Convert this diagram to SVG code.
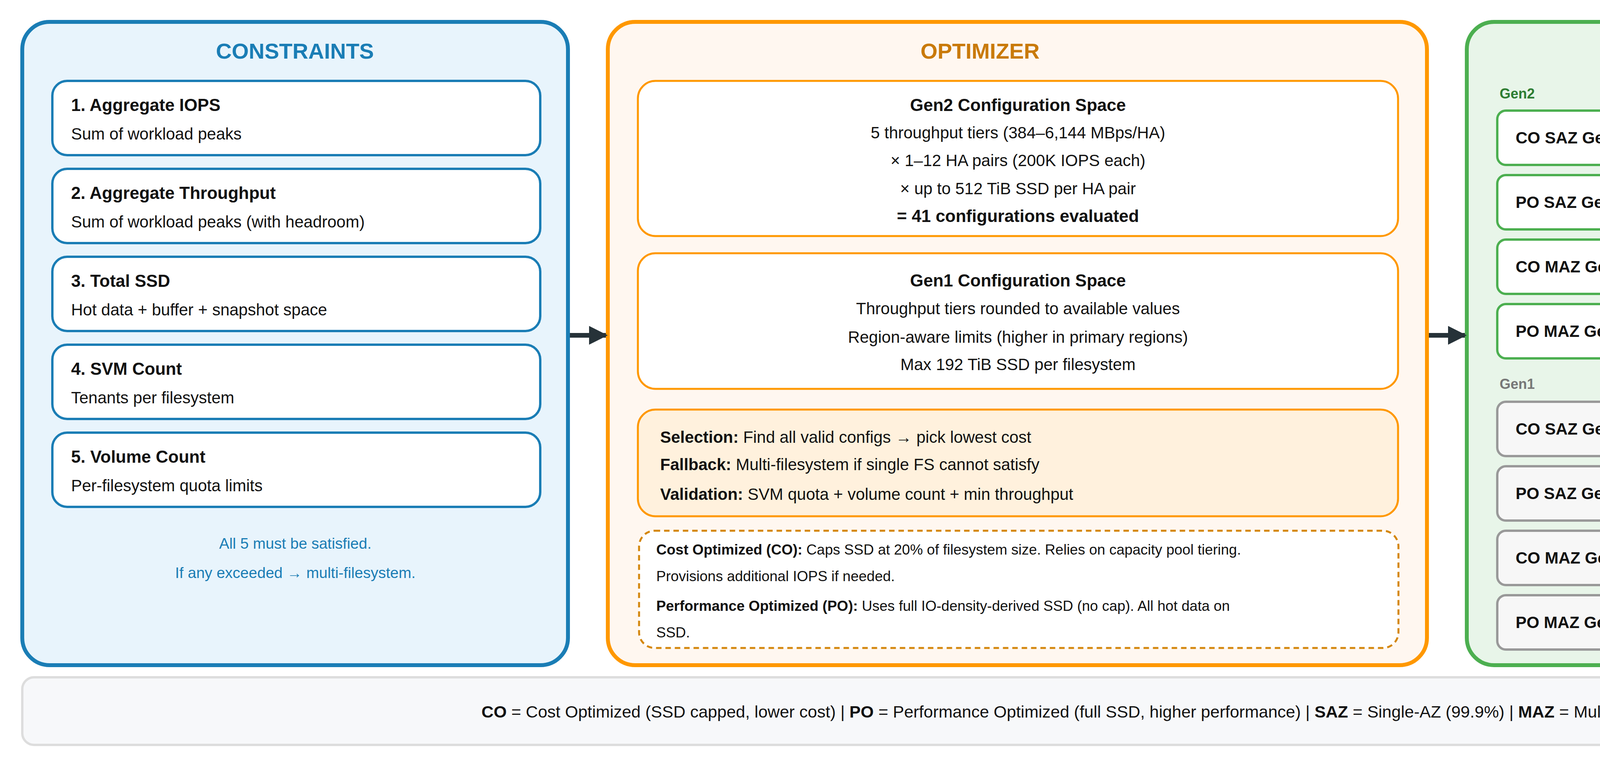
<svg xmlns="http://www.w3.org/2000/svg" width="6910" height="1960" viewBox="0 0 6910 1960">
<defs>
<style>
text{font-family:"Liberation Sans",Arial,sans-serif;fill:#111}
.ttl{font-size:56px;font-weight:bold;text-anchor:middle}
.b{font-weight:bold}
.ct{font-size:44px;font-weight:bold}
.cd{font-size:42px}
.cbox{fill:#fff;stroke:#1a7db5;stroke-width:6}
.obox{fill:#fff;stroke:#ff9800;stroke-width:5}
.g2{fill:#fff;stroke:#4caf50;stroke-width:6}
.g1{fill:#f7f7f7;stroke:#999;stroke-width:6}
.ot{font-size:42px}
.mid{text-anchor:middle}
</style>
<marker id="ah" viewBox="0 0 10 10" refX="9" refY="5" markerWidth="4" markerHeight="4" orient="auto" markerUnits="strokeWidth"><path d="M0,0 L10,5 L0,10 Z" fill="#263238"/></marker>
</defs>
<rect width="6910" height="1960" fill="#fff"/>

<g id="constraints">
<rect x="57" y="56" width="1397" height="1646" rx="70" fill="#e8f4fc" stroke="#1a7db5" stroke-width="10"/>
<text class="ttl" x="755" y="150" style="fill:#1a7db5">CONSTRAINTS</text>
<g id="c1"><rect class="cbox" x="134" y="207" width="1249" height="190" rx="38"/><text class="ct" x="182" y="284">1. Aggregate IOPS</text><text class="cd" x="182" y="357">Sum of workload peaks</text></g>
<g id="c2"><rect class="cbox" x="134" y="432" width="1249" height="190" rx="38"/><text class="ct" x="182" y="509">2. Aggregate Throughput</text><text class="cd" x="182" y="582">Sum of workload peaks (with headroom)</text></g>
<g id="c3"><rect class="cbox" x="134" y="657" width="1249" height="190" rx="38"/><text class="ct" x="182" y="734">3. Total SSD</text><text class="cd" x="182" y="807">Hot data + buffer + snapshot space</text></g>
<g id="c4"><rect class="cbox" x="134" y="882" width="1249" height="190" rx="38"/><text class="ct" x="182" y="959">4. SVM Count</text><text class="cd" x="182" y="1032">Tenants per filesystem</text></g>
<g id="c5"><rect class="cbox" x="134" y="1107" width="1249" height="190" rx="38"/><text class="ct" x="182" y="1184">5. Volume Count</text><text class="cd" x="182" y="1257">Per-filesystem quota limits</text></g>
<text class="mid" x="756" y="1404" style="font-size:39px;fill:#1a7db5">All 5 must be satisfied.</text>
<text class="mid" x="756" y="1479" style="font-size:39px;fill:#1a7db5">If any exceeded → multi-filesystem.</text>
</g>

<g id="optimizer">
<rect x="1556" y="56" width="2097" height="1646" rx="70" fill="#fff7f0" stroke="#ff9800" stroke-width="10"/>
<text class="ttl" x="2509" y="150" style="fill:#c97a0a">OPTIMIZER</text>
<g id="gen2space"><rect class="obox" x="1633" y="207" width="1946" height="397" rx="45"/>
<text class="mid b" x="2606" y="284" style="font-size:44px">Gen2 Configuration Space</text>
<text class="mid" x="2606" y="354" style="font-size:42px">5 throughput tiers (384–6,144 MBps/HA)</text>
<text class="mid" x="2606" y="425" style="font-size:42px">× 1–12 HA pairs (200K IOPS each)</text>
<text class="mid" x="2606" y="497" style="font-size:42px">× up to 512 TiB SSD per HA pair</text>
<text class="mid b" x="2606" y="568" style="font-size:44px">= 41 configurations evaluated</text></g>
<g id="gen1space"><rect class="obox" x="1633" y="648" width="1946" height="347" rx="45"/>
<text class="mid b" x="2606" y="733" style="font-size:44px">Gen1 Configuration Space</text>
<text class="mid" x="2606" y="804" style="font-size:42px">Throughput tiers rounded to available values</text>
<text class="mid" x="2606" y="877" style="font-size:42px">Region-aware limits (higher in primary regions)</text>
<text class="mid" x="2606" y="947" style="font-size:42px">Max 192 TiB SSD per filesystem</text></g>
<g id="selection"><rect x="1633" y="1048" width="1946" height="273" rx="45" fill="#fff1dd" stroke="#ff9800" stroke-width="5"/>
<text x="1690" y="1133" style="font-size:42px"><tspan class="b">Selection:</tspan> Find all valid configs → pick lowest cost</text>
<text x="1690" y="1203" style="font-size:42px"><tspan class="b">Fallback:</tspan> Multi-filesystem if single FS cannot satisfy</text>
<text x="1690" y="1279" style="font-size:42px"><tspan class="b">Validation:</tspan> SVM quota + volume count + min throughput</text></g>
<g id="modes"><rect x="1636" y="1358" width="1944" height="300" rx="40" fill="#fff" stroke="#d4860b" stroke-width="5" stroke-dasharray="14 10"/>
<text x="1680" y="1419" style="font-size:37px"><tspan class="b">Cost Optimized (CO):</tspan> Caps SSD at 20% of filesystem size. Relies on capacity pool tiering.</text>
<text x="1680" y="1487" style="font-size:37px">Provisions additional IOPS if needed.</text>
<text x="1680" y="1563" style="font-size:37px"><tspan class="b">Performance Optimized (PO):</tspan> Uses full IO-density-derived SSD (no cap). All hot data on</text>
<text x="1680" y="1631" style="font-size:37px">SSD.</text></g>
</g>

<g id="output">
<rect x="3755" y="56" width="3100" height="1646" rx="70" fill="#e8f5e9" stroke="#4caf50" stroke-width="10"/>
<text class="ttl" x="5075" y="150" style="fill:#2e7d32">DEPLOYMENT OPTIONS OUTPUT</text>
<text class="b" x="3839" y="252" style="font-size:36px;fill:#2e7d32">Gen2</text>
<g id="o1"><rect class="g2" x="3833" y="283" width="2951" height="139" rx="22"/><text class="ot" x="3880" y="367"><tspan class="b">CO SAZ Gen2</tspan> — Lowest cost, scale-out HA pairs</text></g>
<g id="o2"><rect class="g2" x="3833" y="448" width="2951" height="139" rx="22"/><text class="ot" x="3880" y="532"><tspan class="b">PO SAZ Gen2</tspan> — Higher throughput tier for headroom</text></g>
<g id="o3"><rect class="g2" x="3833" y="613" width="2951" height="139" rx="22"/><text class="ot" x="3880" y="697"><tspan class="b">CO MAZ Gen2</tspan> — HA with standby (99.99% SLA)</text></g>
<g id="o4"><rect class="g2" x="3833" y="778" width="2951" height="139" rx="22"/><text class="ot" x="3880" y="862"><tspan class="b">PO MAZ Gen2</tspan> — Max performance + max availability</text></g>
<text class="b" x="3839" y="995" style="font-size:36px;fill:#777">Gen1</text>
<g id="o5"><rect class="g1" x="3833" y="1028" width="2951" height="139" rx="22"/><text class="ot" x="3880" y="1112"><tspan class="b">CO SAZ Gen1</tspan> — Gen1 architecture, all regions</text></g>
<g id="o6"><rect class="g1" x="3833" y="1193" width="2951" height="139" rx="22"/><text class="ot" x="3880" y="1277"><tspan class="b">PO SAZ Gen1</tspan> — Higher throughput, Gen1</text></g>
<g id="o7"><rect class="g1" x="3833" y="1358" width="2951" height="139" rx="22"/><text class="ot" x="3880" y="1442"><tspan class="b">CO MAZ Gen1</tspan> — Gen1 Multi-AZ (99.99% SLA)</text></g>
<g id="o8"><rect class="g1" x="3833" y="1523" width="2951" height="139" rx="22"/><text class="ot" x="3880" y="1607"><tspan class="b">PO MAZ Gen1</tspan> — Max performance + availability, Gen1</text></g>
</g>

<g id="connectors">
<line x1="1459" y1="858" x2="1551" y2="858" stroke="#263238" stroke-width="12" marker-end="url(#ah)"/>
<line x1="3658" y1="858" x2="3750" y2="858" stroke="#263238" stroke-width="12" marker-end="url(#ah)"/>
</g>

<g id="legend">
<rect x="57" y="1733" width="6798" height="173" rx="30" fill="#f7f8fa" stroke="#ddd" stroke-width="6"/>
<text class="mid" x="3456" y="1836" style="font-size:43px"><tspan class="b">CO</tspan> = Cost Optimized (SSD capped, lower cost) | <tspan class="b">PO</tspan> = Performance Optimized (full SSD, higher performance) | <tspan class="b">SAZ</tspan> = Single-AZ (99.9%) | <tspan class="b">MAZ</tspan> = Multi-AZ (99.99%). The assessment produces validated costs for each selected option.</text>
</g>
</svg>
